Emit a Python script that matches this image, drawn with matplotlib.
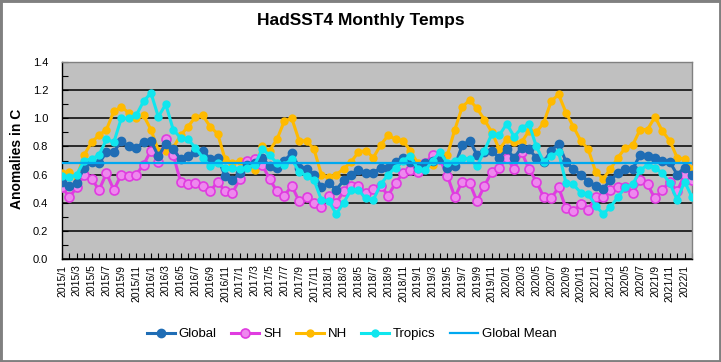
import matplotlib
matplotlib.use("Agg")
import matplotlib.pyplot as plt
from matplotlib.patches import Rectangle
from matplotlib.ticker import FixedLocator

plt.rcParams['font.family'] = ['Liberation Sans', 'DejaVu Sans']

global_vals = [0.55,0.52,0.54,0.65,0.69,0.68,0.76,0.76,0.84,0.80,0.79,0.83,0.84,0.73,0.82,0.78,0.71,0.73,0.76,0.77,0.71,0.72,
               0.59,0.56,0.61,0.67,0.68,0.72,0.66,0.65,0.70,0.75,0.65,0.64,0.60,0.51,0.54,0.49,0.56,0.60,0.63,0.61,0.61,
               0.65,0.65,0.69,0.72,0.69,0.65,0.68,0.70,0.72,0.65,0.66,0.81,0.84,0.74,0.76,0.77,0.72,0.78,0.72,0.79,0.78,
               0.72,0.69,0.77,0.82,0.69,0.64,0.60,0.55,0.52,0.50,0.56,0.61,0.64,0.64,0.74,0.73,0.72,0.70,0.69,0.60,0.65,0.60]
sh_vals = [0.51,0.44,0.51,0.60,0.57,0.49,0.61,0.49,0.60,0.59,0.60,0.67,0.77,0.69,0.85,0.74,0.55,0.53,0.54,0.52,0.48,0.55,
           0.48,0.47,0.57,0.70,0.71,0.67,0.57,0.48,0.45,0.52,0.41,0.44,0.40,0.37,0.45,0.40,0.48,0.52,0.52,0.47,0.50,
           0.52,0.45,0.54,0.61,0.63,0.62,0.68,0.74,0.71,0.59,0.44,0.55,0.54,0.41,0.52,0.62,0.65,0.72,0.64,0.76,0.64,
           0.55,0.44,0.43,0.51,0.36,0.34,0.39,0.35,0.44,0.44,0.49,0.51,0.51,0.47,0.56,0.53,0.43,0.49,0.55,0.48,0.60,0.56]
nh_vals = [0.61,0.62,0.58,0.74,0.83,0.88,0.92,1.05,1.08,1.04,1.00,1.02,0.92,0.77,0.77,0.79,0.88,0.94,1.01,1.02,0.94,0.89,
           0.71,0.68,0.70,0.67,0.63,0.80,0.77,0.85,0.98,1.00,0.84,0.84,0.78,0.60,0.58,0.60,0.64,0.69,0.76,0.77,0.72,
           0.81,0.88,0.85,0.84,0.77,0.68,0.67,0.67,0.71,0.74,0.92,1.08,1.13,1.07,0.99,0.90,0.78,0.85,0.83,0.83,0.91,
           0.90,0.97,1.12,1.17,1.04,0.94,0.84,0.78,0.62,0.57,0.64,0.72,0.79,0.81,0.92,0.92,1.01,0.91,0.84,0.72,0.71,0.64]
tropics_vals = [0.59,0.58,0.60,0.70,0.71,0.74,0.85,0.83,1.00,1.00,1.02,1.12,1.18,1.01,1.10,0.92,0.86,0.85,0.79,0.72,0.66,0.68,
                0.65,0.65,0.64,0.65,0.67,0.78,0.74,0.68,0.67,0.71,0.62,0.59,0.56,0.42,0.41,0.32,0.40,0.49,0.49,0.43,0.42,
                0.53,0.60,0.65,0.70,0.73,0.64,0.63,0.70,0.76,0.68,0.70,0.72,0.71,0.66,0.77,0.89,0.88,0.96,0.87,0.93,0.96,
                0.80,0.69,0.73,0.76,0.54,0.53,0.47,0.46,0.38,0.32,0.37,0.44,0.51,0.53,0.63,0.67,0.65,0.61,0.54,0.42,0.55,0.44]
global_mean = 0.68

y_ticks = [0.0, 0.2, 0.4, 0.6, 0.8, 1.0, 1.2, 1.4]
y_minor = [0.1, 0.3, 0.5, 0.7, 0.9, 1.1, 1.3]

tick_labels = ["2015/1","2015/3","2015/5","2015/7","2015/9","2015/11",
               "2016/1","2016/3","2016/5","2016/7","2016/9","2016/11",
               "2017/1","2017/3","2017/5","2017/7","2017/9","2017/11",
               "2018/1","2018/3","2018/5","2018/7","2018/9","2018/11",
               "2019/1","2019/3","2019/5","2019/7","2019/9","2019/11",
               "2020/1","2020/3","2020/5","2020/7","2020/9","2020/11",
               "2021/1","2021/3","2020/5","2020/7","2021/9","2021/11",
               "2022/1"]

n = len(global_vals)
x = list(range(n))

fig = plt.figure(figsize=(7.21, 3.62), dpi=100)
fig.patches.append(Rectangle((0, 0), 1, 1, transform=fig.transFigure,
                             fill=False, edgecolor='#808080', linewidth=3.5))
ax = fig.add_axes([62/721, 1-259/362, 630/721, 197/362])
ax.set_facecolor('#C0C0C0')

c_global = '#1F6DB5'
c_sh = '#E03CE0'
c_nh = '#FFBA00'
c_trop = '#10E6EE'
c_mean = '#00A8F0'

ax.plot(x, global_vals, color=c_global, lw=2.2, marker='o', ms=6,
        mfc=c_global, mec=c_global, label='Global', zorder=5)
ax.plot(x, sh_vals, color=c_sh, lw=2.2, marker='o', ms=6.5,
        mfc='#EE88EE', mec=c_sh, mew=1.2, label='SH', zorder=4)
ax.plot(x, nh_vals, color=c_nh, lw=2.2, marker='o', ms=5,
        mfc=c_nh, mec=c_nh, label='NH', zorder=3)
ax.plot(x, tropics_vals, color=c_trop, lw=2.2, marker='o', ms=5,
        mfc=c_trop, mec=c_trop, label='Tropics', zorder=6)
ax.plot(x, [global_mean]*n, color=c_mean, lw=1.6, label='Global Mean', zorder=7)

ax.set_xlim(0, n-1)
ax.set_ylim(0, 1.4)
ax.set_yticks(y_ticks)
ax.set_yticks(y_minor, minor=True)
ax.set_yticklabels([f"{v:.1f}" for v in y_ticks], fontsize=8)
ax.grid(axis='y', which='major', color='black', lw=1.1, zorder=1)
ax.set_axisbelow(True)

ax.xaxis.set_major_locator(FixedLocator(list(range(0, n, 2))))
ax.xaxis.set_minor_locator(FixedLocator(list(range(n))))
ax.set_xticklabels(tick_labels, rotation=90, fontsize=7.5)
ax.tick_params(axis='x', which='both', direction='in', length=4, width=0.8, pad=4)
ax.tick_params(axis='y', which='major', direction='in', length=4, width=0.8, pad=10)
ax.tick_params(axis='y', which='minor', direction='in', length=4, width=0.8)

for s in ['top', 'right']:
    ax.spines[s].set_color('#808080')
    ax.spines[s].set_linewidth(1)
for s in ['left', 'bottom']:
    ax.spines[s].set_color('black')
    ax.spines[s].set_linewidth(1)

fig.text(0.5, 0.942, 'HadSST4 Monthly Temps', ha='center', va='center',
         fontsize=12.5, fontweight='bold')
fig.text(0.024, 0.56, 'Anomalies in C', ha='center', va='center',
         rotation=90, fontsize=10, fontweight='bold')

fig.legend(loc='center', bbox_to_anchor=(0.488, 0.077), ncol=5, frameon=False,
           fontsize=9.5, handlelength=2.1, columnspacing=1.1, handletextpad=0.3,
           numpoints=1)

fig.savefig('out.png', dpi=100)
